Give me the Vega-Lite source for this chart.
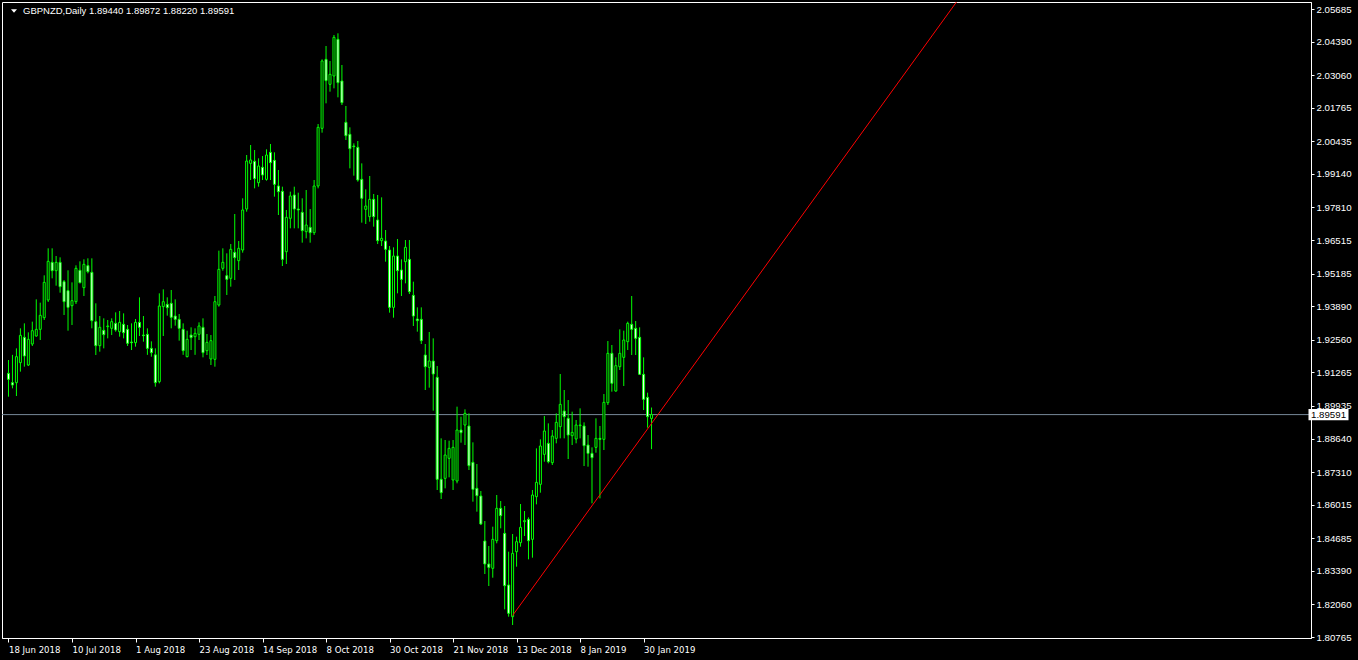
{
"$schema": "https://vega.github.io/schema/vega-lite/v6.json",
"width": 1309,
"height": 636,
"autosize": "none",
"padding": {"left": 2, "top": 2, "right": 47, "bottom": 22},
"background": "#000000",
"config": {"view": {"stroke": "#ffffff", "strokeWidth": 1}, "axis": {"labelOverlap": false, "labelFlush": false, "grid": false}},
"datasets": {"bars": [
{"i":0,"o":1.91228,"h":1.91757,"l":1.90302,"c":1.9099},
{"i":1,"o":1.90858,"h":1.91962,"l":1.90633,"c":1.90765},
{"i":2,"o":1.90858,"h":1.9222,"l":1.90329,"c":1.9189},
{"i":3,"o":1.91652,"h":1.93014,"l":1.91295,"c":1.92736},
{"i":4,"o":1.92657,"h":1.93212,"l":1.91493,"c":1.91916},
{"i":5,"o":1.91559,"h":1.92855,"l":1.91519,"c":1.92578},
{"i":6,"o":1.92392,"h":1.93279,"l":1.92313,"c":1.92921},
{"i":7,"o":1.9271,"h":1.94165,"l":1.92683,"c":1.92974},
{"i":8,"o":1.92974,"h":1.94033,"l":1.92551,"c":1.9353},
{"i":9,"o":1.93437,"h":1.95117,"l":1.93345,"c":1.94839},
{"i":10,"o":1.94138,"h":1.96189,"l":1.94059,"c":1.95673},
{"i":11,"o":1.95633,"h":1.96189,"l":1.94998,"c":1.95302},
{"i":12,"o":1.95302,"h":1.95884,"l":1.94707,"c":1.95633},
{"i":13,"o":1.95633,"h":1.95831,"l":1.94429,"c":1.94667},
{"i":14,"o":1.94866,"h":1.94932,"l":1.93543,"c":1.94072},
{"i":15,"o":1.94509,"h":1.95316,"l":1.92921,"c":1.93847},
{"i":16,"o":1.93913,"h":1.94839,"l":1.93146,"c":1.94112},
{"i":17,"o":1.94072,"h":1.95514,"l":1.9398,"c":1.95395},
{"i":18,"o":1.95316,"h":1.95673,"l":1.948,"c":1.94826},
{"i":19,"o":1.94628,"h":1.95752,"l":1.94297,"c":1.95554},
{"i":20,"o":1.95501,"h":1.95792,"l":1.95196,"c":1.95263},
{"i":21,"o":1.95236,"h":1.95792,"l":1.93014,"c":1.93318},
{"i":22,"o":1.93279,"h":1.94006,"l":1.91956,"c":1.92326},
{"i":23,"o":1.92326,"h":1.93503,"l":1.92088,"c":1.93054},
{"i":24,"o":1.92935,"h":1.93411,"l":1.9222,"c":1.92763},
{"i":25,"o":1.9308,"h":1.93345,"l":1.92617,"c":1.93107},
{"i":26,"o":1.93014,"h":1.93411,"l":1.92749,"c":1.93279},
{"i":27,"o":1.93212,"h":1.93649,"l":1.92882,"c":1.92948},
{"i":28,"o":1.92882,"h":1.93702,"l":1.92683,"c":1.93252},
{"i":29,"o":1.93173,"h":1.93609,"l":1.92617,"c":1.92842},
{"i":30,"o":1.92974,"h":1.93146,"l":1.92313,"c":1.92419},
{"i":31,"o":1.92472,"h":1.93212,"l":1.92154,"c":1.92445},
{"i":32,"o":1.92445,"h":1.93384,"l":1.92287,"c":1.93252},
{"i":33,"o":1.93252,"h":1.94244,"l":1.9271,"c":1.93054},
{"i":34,"o":1.92749,"h":1.93503,"l":1.92485,"c":1.92723},
{"i":35,"o":1.92776,"h":1.93014,"l":1.91962,"c":1.9222},
{"i":36,"o":1.9222,"h":1.92498,"l":1.9189,"c":1.92048},
{"i":37,"o":1.91962,"h":1.9222,"l":1.90699,"c":1.90858},
{"i":38,"o":1.90898,"h":1.94403,"l":1.90832,"c":1.939},
{"i":39,"o":1.93874,"h":1.94562,"l":1.9271,"c":1.94072},
{"i":40,"o":1.93966,"h":1.94244,"l":1.93517,"c":1.93834},
{"i":41,"o":1.94006,"h":1.94535,"l":1.93014,"c":1.93451},
{"i":42,"o":1.93503,"h":1.94165,"l":1.9312,"c":1.93371},
{"i":43,"o":1.93371,"h":1.93583,"l":1.92525,"c":1.93014},
{"i":44,"o":1.92974,"h":1.93212,"l":1.91962,"c":1.92128},
{"i":45,"o":1.9189,"h":1.92921,"l":1.91863,"c":1.92578},
{"i":46,"o":1.92749,"h":1.93054,"l":1.92154,"c":1.92644},
{"i":47,"o":1.92683,"h":1.93014,"l":1.91962,"c":1.92816},
{"i":48,"o":1.92776,"h":1.93252,"l":1.92551,"c":1.93107},
{"i":49,"o":1.93054,"h":1.93411,"l":1.91863,"c":1.92048},
{"i":50,"o":1.92128,"h":1.92789,"l":1.91956,"c":1.92458},
{"i":51,"o":1.91797,"h":1.92749,"l":1.91559,"c":1.92525},
{"i":52,"o":1.91784,"h":1.94297,"l":1.91493,"c":1.94072},
{"i":53,"o":1.9394,"h":1.96096,"l":1.93874,"c":1.95355},
{"i":54,"o":1.95395,"h":1.96189,"l":1.95302,"c":1.95633},
{"i":55,"o":1.95104,"h":1.9599,"l":1.94337,"c":1.94958},
{"i":56,"o":1.94998,"h":1.9636,"l":1.94667,"c":1.96149},
{"i":57,"o":1.9603,"h":1.97551,"l":1.94932,"c":1.95818},
{"i":58,"o":1.95699,"h":1.96479,"l":1.95329,"c":1.96189},
{"i":59,"o":1.96122,"h":1.98173,"l":1.96017,"c":1.9771},
{"i":60,"o":1.97749,"h":1.99892,"l":1.97643,"c":1.99654},
{"i":61,"o":1.99561,"h":2.00289,"l":1.989,"c":1.99694},
{"i":62,"o":1.99641,"h":2.0009,"l":1.98569,"c":1.98953},
{"i":63,"o":1.98794,"h":1.9976,"l":1.98635,"c":1.99456},
{"i":64,"o":1.99403,"h":1.99852,"l":1.989,"c":1.99098},
{"i":65,"o":1.98926,"h":2.00117,"l":1.98874,"c":1.99892},
{"i":66,"o":1.99998,"h":2.00329,"l":1.989,"c":1.99588},
{"i":67,"o":1.9968,"h":1.99998,"l":1.98239,"c":1.98728},
{"i":68,"o":1.98662,"h":1.99297,"l":1.97511,"c":1.98437},
{"i":69,"o":1.9845,"h":1.98635,"l":1.95487,"c":1.95752},
{"i":70,"o":1.96056,"h":1.9771,"l":1.95567,"c":1.97419},
{"i":71,"o":1.97379,"h":1.98437,"l":1.96982,"c":1.98265},
{"i":72,"o":1.98305,"h":1.98635,"l":1.96982,"c":1.97749},
{"i":73,"o":1.97749,"h":1.98397,"l":1.96982,"c":1.9771},
{"i":74,"o":1.97617,"h":1.98173,"l":1.96413,"c":1.9689},
{"i":75,"o":1.9685,"h":1.98503,"l":1.96585,"c":1.97114},
{"i":76,"o":1.97022,"h":1.97749,"l":1.96413,"c":1.9681},
{"i":77,"o":1.9681,"h":1.989,"l":1.96718,"c":1.98662},
{"i":78,"o":1.98662,"h":2.01122,"l":1.98569,"c":2.0099},
{"i":79,"o":2.0095,"h":2.03688,"l":2.00778,"c":2.03622},
{"i":80,"o":2.03688,"h":2.04217,"l":2.01942,"c":2.02842},
{"i":81,"o":2.02696,"h":2.03622,"l":2.02405,"c":2.03093},
{"i":82,"o":2.03027,"h":2.04654,"l":2.02537,"c":2.04561},
{"i":83,"o":2.04482,"h":2.0472,"l":2.0218,"c":2.02762},
{"i":84,"o":2.02828,"h":2.03463,"l":2.01876,"c":2.01969},
{"i":85,"o":2.01188,"h":2.01836,"l":2.00487,"c":2.00659},
{"i":86,"o":2.00712,"h":2.0099,"l":1.99363,"c":2.00143},
{"i":87,"o":2.00249,"h":2.00355,"l":1.99072,"c":2.00223},
{"i":88,"o":2.00196,"h":2.00448,"l":1.98834,"c":1.989},
{"i":89,"o":1.98926,"h":1.99561,"l":1.97207,"c":1.98173},
{"i":90,"o":1.97736,"h":1.9853,"l":1.97154,"c":1.97868},
{"i":91,"o":1.97445,"h":1.99059,"l":1.97247,"c":1.98133},
{"i":92,"o":1.98133,"h":1.98345,"l":1.97048,"c":1.97445},
{"i":93,"o":1.97313,"h":1.98305,"l":1.9636,"c":1.96493},
{"i":94,"o":1.96493,"h":1.98212,"l":1.96281,"c":1.96585},
{"i":95,"o":1.96479,"h":1.96916,"l":1.95659,"c":1.96149},
{"i":96,"o":1.96122,"h":1.96281,"l":1.93636,"c":1.93847},
{"i":97,"o":1.93847,"h":1.96228,"l":1.93437,"c":1.95884},
{"i":98,"o":1.95884,"h":1.96559,"l":1.94403,"c":1.95302},
{"i":99,"o":1.95329,"h":1.95752,"l":1.94297,"c":1.94958},
{"i":100,"o":1.95659,"h":1.96519,"l":1.948,"c":1.96228},
{"i":101,"o":1.95752,"h":1.96519,"l":1.94376,"c":1.94469},
{"i":102,"o":1.94323,"h":1.94866,"l":1.93107,"c":1.93503},
{"i":103,"o":1.93384,"h":1.93847,"l":1.92882,"c":1.93318},
{"i":104,"o":1.93371,"h":1.93847,"l":1.92392,"c":1.92525},
{"i":105,"o":1.91956,"h":1.92392,"l":1.90567,"c":1.91493},
{"i":106,"o":1.91466,"h":1.92869,"l":1.9066,"c":1.91718},
{"i":107,"o":1.91718,"h":1.92617,"l":1.89747,"c":1.91202},
{"i":108,"o":1.9107,"h":1.91519,"l":1.86599,"c":1.87022},
{"i":109,"o":1.87022,"h":1.88649,"l":1.86242,"c":1.86493},
{"i":110,"o":1.87062,"h":1.88583,"l":1.86665,"c":1.87988},
{"i":111,"o":1.87856,"h":1.88557,"l":1.87102,"c":1.88252},
{"i":112,"o":1.86996,"h":1.88583,"l":1.86599,"c":1.88292},
{"i":113,"o":1.86956,"h":1.89906,"l":1.86864,"c":1.8898},
{"i":114,"o":1.8898,"h":1.89509,"l":1.88477,"c":1.88874},
{"i":115,"o":1.89178,"h":1.898,"l":1.88385,"c":1.89641},
{"i":116,"o":1.89139,"h":1.89641,"l":1.87393,"c":1.87565},
{"i":117,"o":1.87697,"h":1.8849,"l":1.86136,"c":1.86625},
{"i":118,"o":1.86665,"h":1.87631,"l":1.85739,"c":1.86374},
{"i":119,"o":1.86361,"h":1.86559,"l":1.8521,"c":1.8525},
{"i":120,"o":1.84575,"h":1.85369,"l":1.83266,"c":1.83663},
{"i":121,"o":1.83663,"h":1.84377,"l":1.8279,"c":1.8353},
{"i":122,"o":1.83491,"h":1.85144,"l":1.8312,"c":1.84641},
{"i":123,"o":1.84588,"h":1.86401,"l":1.84483,"c":1.85872},
{"i":124,"o":1.85872,"h":1.86162,"l":1.85078,"c":1.85581},
{"i":125,"o":1.84879,"h":1.85964,"l":1.81864,"c":1.82803},
{"i":126,"o":1.82829,"h":1.84152,"l":1.81573,"c":1.81705},
{"i":127,"o":1.81573,"h":1.84853,"l":1.81242,"c":1.84086},
{"i":128,"o":1.84152,"h":1.84747,"l":1.83557,"c":1.84549},
{"i":129,"o":1.84509,"h":1.86043,"l":1.8435,"c":1.85118},
{"i":130,"o":1.85342,"h":1.85766,"l":1.84774,"c":1.85382},
{"i":131,"o":1.85435,"h":1.85514,"l":1.83848,"c":1.84588},
{"i":132,"o":1.84641,"h":1.86599,"l":1.83914,"c":1.86401},
{"i":133,"o":1.86334,"h":1.88252,"l":1.8603,"c":1.86903},
{"i":134,"o":1.86824,"h":1.88609,"l":1.86493,"c":1.88345},
{"i":135,"o":1.88014,"h":1.89535,"l":1.87723,"c":1.8894},
{"i":136,"o":1.88451,"h":1.89244,"l":1.87657,"c":1.87723},
{"i":137,"o":1.87684,"h":1.8898,"l":1.87591,"c":1.88742},
{"i":138,"o":1.88649,"h":1.89641,"l":1.88451,"c":1.89284},
{"i":139,"o":1.89112,"h":1.91202,"l":1.88649,"c":1.89998},
{"i":140,"o":1.89734,"h":1.90567,"l":1.88649,"c":1.89509},
{"i":141,"o":1.89443,"h":1.9017,"l":1.87829,"c":1.88781},
{"i":142,"o":1.88755,"h":1.89707,"l":1.88385,"c":1.88887},
{"i":143,"o":1.88623,"h":1.89377,"l":1.88451,"c":1.89178},
{"i":144,"o":1.89152,"h":1.8984,"l":1.88649,"c":1.89178},
{"i":145,"o":1.89139,"h":1.89284,"l":1.87551,"c":1.88358},
{"i":146,"o":1.88385,"h":1.88781,"l":1.87525,"c":1.88054},
{"i":147,"o":1.88054,"h":1.88292,"l":1.8607,"c":1.87882},
{"i":148,"o":1.88292,"h":1.89443,"l":1.8808,"c":1.88649},
{"i":149,"o":1.88649,"h":1.89139,"l":1.86268,"c":1.88609},
{"i":150,"o":1.88609,"h":1.90408,"l":1.88186,"c":1.90078},
{"i":151,"o":1.90064,"h":1.92511,"l":1.89972,"c":1.92022},
{"i":152,"o":1.92022,"h":1.92353,"l":1.90501,"c":1.90832},
{"i":153,"o":1.90527,"h":1.91863,"l":1.90501,"c":1.91533},
{"i":154,"o":1.91493,"h":1.92974,"l":1.91361,"c":1.92022},
{"i":155,"o":1.91863,"h":1.92921,"l":1.90726,"c":1.92551},
{"i":156,"o":1.92485,"h":1.93279,"l":1.92154,"c":1.93212},
{"i":157,"o":1.93173,"h":1.94297,"l":1.91956,"c":1.92974},
{"i":158,"o":1.93014,"h":1.93305,"l":1.91956,"c":1.92617},
{"i":159,"o":1.92657,"h":1.93054,"l":1.91162,"c":1.91189},
{"i":160,"o":1.91189,"h":1.91863,"l":1.89773,"c":1.90197},
{"i":161,"o":1.90276,"h":1.90461,"l":1.89072,"c":1.89509},
{"i":162,"o":1.8944,"h":1.89872,"l":1.8822,"c":1.89591}
]},
"layer": [
{
"data": {"values": [{"p": 1.89591}]},
"mark": {"type": "rule", "color": "#778899", "strokeWidth": 1},
"encoding": {"y": {"field": "p", "type": "quantitative",
"scale": {"domain": [1.80727, 2.05963], "nice": false, "zero": false},
"axis": {"orient": "right", "title": null, "grid": false, "tickCount": 60,
"values": [2.05685,2.0439,2.0306,2.01765,2.00435,1.9914,1.9781,1.96515,1.95185,1.9389,1.9256,1.91265,1.89935,1.8864,1.8731,1.86015,1.84685,1.8339,1.8206,1.80765],
"format": ".5f", "labelPadding": 2, "labelFlush": false, "labelOverlap": false,
"labelFont": "Liberation Sans", "labelFontSize": 9.7, "labelColor": "#ffffff",
"tickSize": 3, "tickColor": "#ffffff", "domainColor": "#ffffff"}}}
},
{
"data": {"name": "bars"},
"mark": {"type": "rule", "color": "#00ff00", "strokeWidth": 1},
"encoding": {
"x": {"field": "i", "type": "quantitative",
"scale": {"domain": [-0.375, 326.875], "nice": false, "zero": false},
"axis": {"orient": "bottom", "title": null, "grid": false, "tickCount": 60, "values": [0,16,32,48,64,80,96,112,128,144,160],
"labelExpr": "['18 Jun 2018','10 Jul 2018','1 Aug 2018','23 Aug 2018','14 Sep 2018','8 Oct 2018','30 Oct 2018','21 Nov 2018','13 Dec 2018','8 Jan 2019','30 Jan 2019'][round(datum.value/16)]",
"labelAlign": "left", "labelBaseline": "top", "labelPadding": 2, "labelFlush": false, "labelOverlap": false,
"labelFont": "Liberation Sans Narrow, DejaVu Sans Condensed, sans-serif", "labelFontSize": 9.5, "labelColor": "#ffffff",
"tickSize": 4, "tickColor": "#ffffff", "domainColor": "#ffffff"}},
"y": {"field": "l", "type": "quantitative"},
"y2": {"field": "h"}
}
},
{
"data": {"name": "bars"},
"mark": {"type": "bar", "size": 2, "stroke": "#00ff00", "strokeWidth": 1},
"encoding": {
"x": {"field": "i", "type": "quantitative"},
"y": {"field": "o", "type": "quantitative"},
"y2": {"field": "c"},
"fill": {"condition": {"test": "datum.c < datum.o", "value": "#ffffff"}, "value": "#000000"}
}
},
{
"data": {"values": [{"i": 127, "p": 1.8162}, {"i": 240, "p": 2.0622}]},
"mark": {"type": "line", "color": "#ff0000", "strokeWidth": 1, "clip": true},
"encoding": {"x": {"field": "i", "type": "quantitative"}, "y": {"field": "p", "type": "quantitative"}}
},
{
"data": {"values": [{"p": 1.89591, "t": "1.89591"}]},
"mark": {"type": "point", "shape": "M-1,-0.28H1V0.28H-1Z", "size": 1600, "filled": true, "color": "#ffffff", "opacity": 1, "xOffset": 22.5},
"encoding": {"x": {"datum": 326.875, "type": "quantitative"}, "y": {"field": "p", "type": "quantitative"}}
},
{
"data": {"values": [{"p": 1.89591, "t": "1.89591"}]},
"mark": {"type": "text", "align": "left", "baseline": "middle", "dx": 5, "font": "Liberation Sans", "fontSize": 9.7, "color": "#000000"},
"encoding": {"x": {"datum": 326.875, "type": "quantitative"}, "y": {"field": "p", "type": "quantitative"}, "text": {"field": "t"}}
},
{
"data": {"values": [{"t": "GBPNZD,Daily  1.89440 1.89872 1.88220 1.89591"}]},
"mark": {"type": "text", "align": "left", "baseline": "alphabetic", "dx": 16, "dy": 12.3, "font": "Liberation Sans", "fontSize": 9.5, "color": "#ffffff"},
"encoding": {"x": {"datum": -0.375, "type": "quantitative"}, "y": {"datum": 2.05963, "type": "quantitative"}, "text": {"field": "t"}}
},
{
"data": {"values": [{"t": "▼"}]},
"mark": {"type": "point", "shape": "M-1,-0.6H1L0,0.6Z", "size": 36, "filled": true, "color": "#ffffff", "opacity": 1, "xOffset": 7, "yOffset": 9},
"encoding": {"x": {"datum": -0.375, "type": "quantitative"}, "y": {"datum": 2.05963, "type": "quantitative"}}
}
]
}
